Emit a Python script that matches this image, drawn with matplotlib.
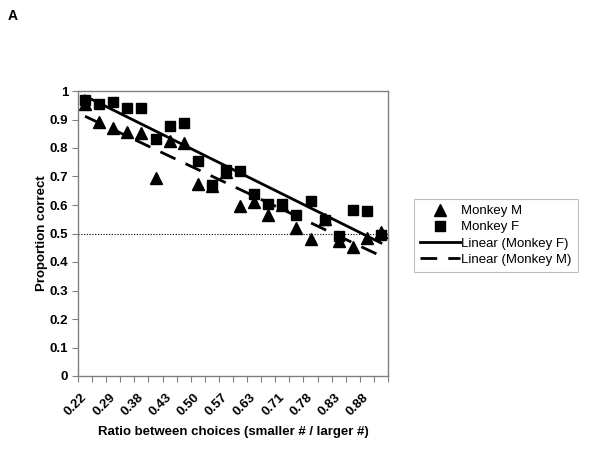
import numpy as np
import matplotlib
matplotlib.use("Agg")
import matplotlib.pyplot as plt
from matplotlib.transforms import ScaledTranslation

plt.rcParams['font.family'] = ['Liberation Sans', 'DejaVu Sans']

ratios = ["0.22", "0.25", "0.29", "0.33", "0.38", "0.40", "0.43", "0.44", "0.50", "0.56", "0.57",
          "0.60", "0.63", "0.67", "0.71", "0.75", "0.78", "0.80", "0.83", "0.86", "0.88", "0.89"]
monkey_m = [0.955, 0.890, 0.870, 0.857, 0.851, 0.696, 0.825, 0.819, 0.673, 0.665, 0.715,
            0.596, 0.612, 0.564, 0.600, 0.520, 0.481, 0.550, 0.475, 0.452, 0.485, 0.505]
monkey_f = [0.968, 0.954, 0.960, 0.940, 0.940, 0.833, 0.878, 0.887, 0.754, 0.669, 0.722,
            0.721, 0.640, 0.602, 0.602, 0.564, 0.615, 0.549, 0.490, 0.581, 0.578, 0.493]
chance = 0.5

x = np.arange(len(ratios))
FS = 9.5

fig = plt.figure(figsize=(6, 4.5), dpi=100)
ax = fig.add_axes([78/600, 1-376/450, (388-78)/600, (376-91)/450])

ax.axhline(chance, color='black', lw=0.8, ls=(0, (1, 1.5)), zorder=1)

ax.plot(x, monkey_m, ls='none', marker='^', ms=9, color='black', label='Monkey M', zorder=3)
ax.plot(x, monkey_f, ls='none', marker='s', ms=7.5, color='black', label='Monkey F', zorder=4)

cf = np.polyfit(x + 1, monkey_f, 1)
cm = np.polyfit(x + 1, monkey_m, 1)
ax.plot(x, np.polyval(cf, x + 1), color='black', lw=2, label='Linear (Monkey F)', zorder=5)
ax.plot(x, np.polyval(cm, x + 1), color='black', lw=2, dashes=(6, 4), label='Linear (Monkey M)', zorder=5)

ax.set_xlim(-0.5, len(ratios) - 0.5)
ax.set_ylim(0, 1)
ax.set_yticks(np.arange(0, 1.01, 0.1))
ax.set_yticklabels(['0'] + [f'{v:.1f}' for v in np.arange(0.1, 0.95, 0.1)] + ['1'],
                   fontsize=FS, fontweight='bold')

ax.set_xticks(np.arange(-0.5, len(ratios), 1))
ax.set_xticklabels([])
ax.set_xticks(x[::2], minor=True)
ax.set_xticklabels(ratios[::2], minor=True, rotation=45, ha='right', va='center',
                   rotation_mode='anchor', fontsize=FS, fontweight='bold')
off = ScaledTranslation(-8/100, 0, fig.dpi_scale_trans)
for lab in ax.get_xticklabels(minor=True):
    lab.set_transform(lab.get_transform() + off)
ax.tick_params(axis='x', which='minor', length=0, pad=14)
ax.tick_params(axis='x', which='major', length=4, width=0.8, color='#808080', direction='out')
ax.tick_params(axis='y', length=4, width=0.8, color='#808080', direction='out', pad=3)

for s in ax.spines.values():
    s.set_color('#808080')
    s.set_linewidth(1)

ax.set_xlabel('Ratio between choices (smaller # / larger #)', fontsize=FS, fontweight='bold', labelpad=5.5)
ax.set_ylabel('Proportion correct', fontsize=FS, fontweight='bold', labelpad=1)

leg = fig.legend(loc='upper left', bbox_to_anchor=(414/600, 1-199/450), fontsize=FS,
                 frameon=True, fancybox=False, edgecolor='#b0b0b0', handlelength=3.0,
                 handletextpad=0.15, borderpad=0.45, borderaxespad=0, labelspacing=0.3)
leg.get_frame().set_linewidth(0.8)

fig.text(8/600, 1-20/450, 'A', fontsize=10, fontweight='bold', va='baseline')

fig.savefig('out.png', dpi=100)
